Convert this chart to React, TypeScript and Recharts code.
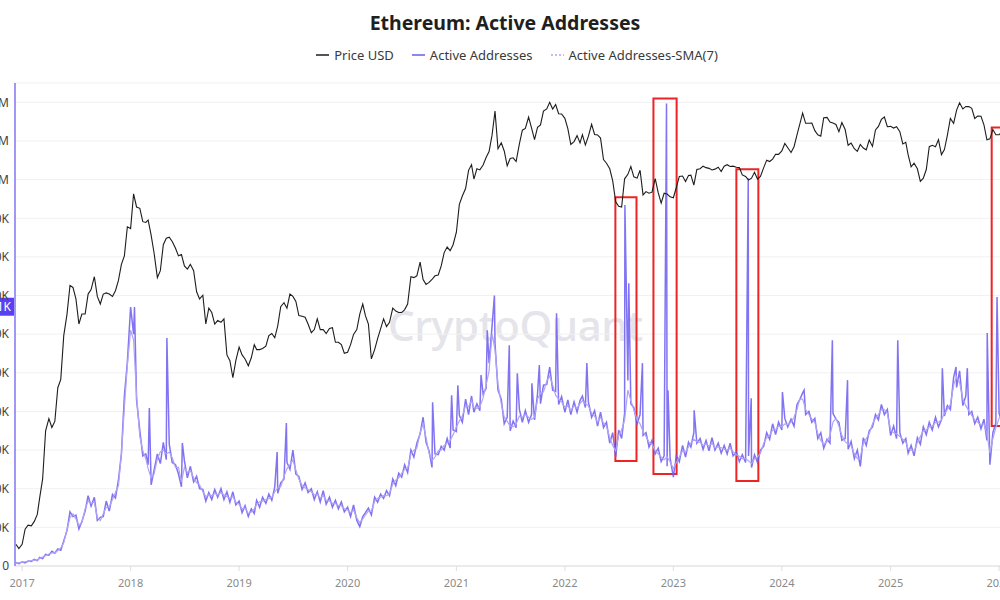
import React from "react";
import {
  ComposedChart,
  Line,
  XAxis,
  YAxis,
  CartesianGrid,
  ReferenceArea,
  ReferenceLine,
  Legend,
} from "recharts";

const FONT = "'Noto Sans', 'Open Sans', sans-serif";
const PRICE_COLOR = "#1d1d1d";
const AA_COLOR = "#6b5bef";
const SMA_COLOR = "#aea4f7";
const AXIS_PURPLE = "#8274f3";
const BOX_RED = "#ee2424";

// samples on the 1st, 11th and 21st of every month, starting 2016-12-11
const SAMPLE_DAYS = [1, 11, 21];

// ETH price in USD, one row per year
const priceUsd = [
  8.2, 7.7,
  8.2, 10.2, 10.8, 10.7, 11.4, 12.6, 16, 21, 42, 50, 44, 48, 78, 88, 165, 225, 340, 330, 280, 195, 225, 225, 300, 320, 385, 290, 260, 300, 305, 300, 290, 315, 365, 460, 520, 790,
  770, 1270, 1050, 1030, 850, 840, 870, 700, 540, 380, 420, 610, 670, 680, 640, 580, 520, 530, 450, 430, 460, 420, 310, 280, 295, 195, 245, 230, 195, 205, 200, 210, 125, 115, 90, 115,
  140, 125, 118, 107, 120, 145, 135, 135, 137, 142, 165, 170, 160, 190, 250, 265, 245, 300, 290, 270, 220, 218, 215, 195, 172, 180, 210, 180, 180, 170, 183, 185, 150, 150, 145, 128,
  130, 145, 168, 180, 225, 260, 220, 195, 118, 135, 158, 182, 210, 188, 200, 245, 235, 230, 230, 240, 260, 385, 380, 390, 475, 370, 345, 355, 370, 390, 395, 450, 545, 590, 560, 610,
  730, 1090, 1230, 1370, 1780, 1930, 1570, 1820, 1790, 1920, 2140, 2330, 2950, 4170, 2430, 2640, 2350, 1900, 2110, 2130, 2020, 2600, 3170, 3250, 3830, 3270, 2770, 3300, 3420, 4170, 4300, 4730, 4300, 4590, 4020, 4000,
  3760, 3240, 2580, 2690, 2930, 2640, 2970, 2560, 2900, 3450, 2980, 2960, 2830, 2080, 1970, 1820, 1530, 1130, 1060, 1050, 1575, 1680, 1880, 1620, 1590, 1780, 1250, 1310, 1280, 1300, 1580, 1290, 1110, 1280, 1265, 1215,
  1200, 1390, 1630, 1640, 1515, 1650, 1660, 1440, 1800, 1820, 1890, 1850, 1830, 1790, 1810, 1860, 1750, 1890, 1930, 1880, 1890, 1860, 1850, 1665, 1630, 1550, 1590, 1730, 1570, 1630, 1850, 2060, 2020, 2090, 2240, 2240,
  2350, 2620, 2460, 2300, 2500, 2960, 3430, 4050, 3500, 3500, 3510, 3150, 2970, 2910, 3790, 3810, 3560, 3520, 3440, 3100, 3540, 3200, 2550, 2630, 2430, 2340, 2580, 2450, 2390, 2750, 2510, 3180, 3350, 3700, 3830, 3330,
  3350, 3270, 3330, 3100, 2600, 2660, 2220, 1870, 1970, 1820, 1520, 1590, 1800, 2500, 2550, 2500, 2770, 2230, 2400, 2950, 3750, 3500, 4230, 4700, 4300, 4460, 4450, 4340, 3750, 3880, 3870, 3420, 2760, 2800, 3200, 2970,
  2970, 3100, 2950, 2800,
];

// daily active addresses (thousands), same samples
const activeK = [
  9, 6,
  11, 8, 13, 12, 17, 14, 22, 19, 30, 28, 38, 33, 44, 41, 65, 92, 140, 128, 132, 96, 115, 142, 182, 155, 178, 118, 126, 128, 168, 142, 185, 176, 222, 290, 440, 527,
  670, 600, 430, 350, 285, 290, 262, 210, 248, 290, 265, 320, 275, 315, 268, 262, 238, 205, 272, 228, 258, 218, 232, 200, 198, 168, 190, 172, 198, 178, 200, 172, 192, 165, 192, 158,
  168, 138, 156, 128, 148, 136, 170, 152, 178, 162, 186, 170, 205, 188, 215, 225, 268, 250, 300, 238, 232, 198, 215, 190, 200, 172, 192, 166, 195, 160, 178, 152, 170, 148, 166, 140,
  152, 128, 158, 118, 102, 128, 138, 150, 132, 178, 165, 186, 175, 195, 182, 225, 208, 240, 230, 262, 242, 300, 282, 318, 342, 385, 320, 298, 255, 290, 288, 310, 300, 330, 305, 352,
  348, 390, 372, 432, 392, 440, 398, 420, 402, 445, 460, 525, 620, 575, 455, 432, 368, 385, 350, 375, 358, 405, 372, 402, 372, 392, 378, 445, 420, 468, 470, 515, 455, 452, 418, 438,
  398, 430, 392, 425, 398, 428, 440, 410, 425, 385, 402, 362, 398, 358, 372, 318, 345, 282, 352, 330, 395, 480, 420, 410, 368, 392, 338, 345, 308, 325, 290, 305, 270, 285, 258, 280,
  230, 285, 270, 312, 282, 320, 308, 345, 318, 330, 302, 325, 298, 332, 300, 318, 292, 312, 290, 318, 285, 295, 270, 288, 268, 285, 255, 288, 268, 300, 310, 345, 328, 368, 340, 372,
  352, 382, 360, 380, 362, 418, 430, 448, 392, 400, 372, 382, 330, 345, 305, 328, 318, 395, 380, 372, 325, 330, 302, 322, 278, 300, 258, 332, 312, 350, 360, 392, 378, 418, 392, 405,
  338, 362, 330, 345, 318, 330, 292, 312, 285, 332, 315, 360, 340, 372, 352, 385, 360, 378, 388, 415, 405, 488, 462, 505, 415, 440, 392, 400, 368, 385, 355, 380, 325, 262, 345, 370,
  395, 372, 420, 430,
];

// 7-day SMA of active addresses (thousands), same samples
const smaK = [
  8, 8,
  10, 11, 11, 14, 15, 15, 20, 23, 27, 31, 34, 34, 40, 47, 60, 95, 125, 135, 122, 105, 112, 148, 168, 162, 165, 125, 118, 135, 152, 152, 172, 190, 208, 290, 410, 520,
  610, 585, 440, 335, 298, 278, 252, 228, 238, 278, 295, 300, 290, 295, 280, 255, 255, 218, 255, 242, 248, 228, 215, 210, 192, 180, 184, 182, 188, 184, 190, 184, 180, 175, 180, 165,
  160, 148, 150, 136, 140, 148, 160, 166, 168, 172, 174, 178, 192, 202, 205, 232, 252, 262, 275, 248, 225, 208, 202, 198, 192, 184, 186, 176, 182, 170, 168, 162, 162, 156, 156, 148,
  145, 138, 145, 125, 112, 122, 132, 142, 142, 168, 175, 178, 182, 182, 188, 212, 222, 228, 240, 250, 252, 290, 300, 305, 345, 368, 332, 292, 272, 282, 298, 300, 312, 318, 325, 340,
  360, 375, 388, 415, 412, 428, 410, 408, 412, 435, 468, 505, 600, 560, 470, 420, 385, 375, 362, 360, 368, 388, 385, 392, 385, 380, 385, 432, 448, 450, 478, 492, 468, 442, 432, 425,
  410, 415, 402, 415, 408, 420, 428, 420, 415, 395, 388, 372, 385, 370, 362, 332, 312, 298, 338, 352, 378, 455, 428, 405, 378, 368, 348, 335, 320, 315, 298, 290, 282, 275, 282, 270,
  252, 268, 282, 298, 295, 308, 318, 328, 322, 320, 312, 316, 310, 318, 306, 308, 306, 302, 300, 305, 296, 288, 284, 278, 278, 272, 265, 278, 282, 292, 318, 332, 338, 352, 352, 362,
  360, 368, 366, 372, 385, 405, 432, 432, 405, 392, 380, 372, 342, 325, 315, 322, 338, 372, 382, 362, 338, 322, 315, 312, 290, 278, 282, 318, 330, 342, 368, 382, 392, 405, 405, 395,
  352, 345, 342, 335, 328, 322, 302, 300, 296, 320, 335, 350, 352, 360, 362, 372, 372, 378, 395, 405, 418, 468, 490, 475, 432, 415, 402, 390, 378, 372, 365, 368, 342, 292, 330, 358,
  382, 395, 415, 428,
];

// single-day spikes in active addresses (thousands)
const aaSpikes: [string, number][] = [
  ["2018-01-14", 670], ["2018-03-05", 409], ["2018-05-03", 590], ["2018-06-24", 318],
  ["2019-05-09", 295], ["2019-06-09", 370], ["2020-10-13", 424], ["2020-12-16", 442],
  ["2021-01-06", 468], ["2021-03-25", 494], ["2021-04-15", 610], ["2021-05-09", 700],
  ["2021-06-28", 571], ["2021-07-25", 499], ["2021-09-12", 473], ["2021-10-07", 520],
  ["2021-12-04", 654], ["2022-03-16", 525], ["2022-07-22", 934], ["2022-08-04", 732],
  ["2022-09-19", 525], ["2022-12-09", 1197], ["2022-12-14", 455], ["2023-03-12", 403],
  ["2023-09-10", 1003], ["2023-09-20", 434], ["2024-01-03", 450], ["2024-03-16", 455],
  ["2024-06-19", 584], ["2024-08-09", 481], ["2025-01-25", 584], ["2025-06-24", 512],
  ["2025-08-09", 515], ["2025-09-16", 512], ["2025-11-22", 603], ["2025-12-25", 696],
];

// red highlight boxes: [from, to, top (K), bottom (K)]
const highlightBoxes: [string, string, number, number][] = [
  ["2022-06-20", "2022-08-30", 954, 272],
  ["2022-10-26", "2023-01-12", 1210, 238],
  ["2023-08-01", "2023-10-14", 1027, 220],
  ["2025-12-07", "2026-02-08", 1135, 362],
];

const yearTicks = [2017, 2018, 2019, 2020, 2021, 2022, 2023, 2024, 2025, 2026];
const aaTicksK = [0, 100, 200, 300, 400, 500, 600, 700, 800, 900, 1000, 1100, 1200];
const currentAaK = 671;

const legendItems = [
  { label: "Price USD", color: PRICE_COLOR, dash: undefined as string | undefined },
  { label: "Active Addresses", color: AA_COLOR, dash: undefined },
  { label: "Active Addresses-SMA(7)", color: SMA_COLOR, dash: "2 2" },
];

const utc = (s: string) => Date.parse(s + "T00:00:00Z");

function sampleDates(n: number): number[] {
  const out: number[] = [];
  let y = 2016;
  let m = 11;
  while (out.length < n) {
    for (const d of SAMPLE_DAYS) {
      if (y === 2016 && d === 1) continue;
      if (out.length < n) out.push(Date.UTC(y, m, d));
    }
    m += 1;
    if (m === 12) {
      m = 0;
      y += 1;
    }
  }
  return out;
}

const dates = sampleDates(priceUsd.length);
const rows: { t: number; price?: number; aa?: number; sma?: number }[] = dates.map((t, i) => ({
  t,
  price: priceUsd[i],
  aa: activeK[i] * 1000,
  sma: smaK[i] * 1000,
}));
const data = [
  ...rows,
  ...aaSpikes.map(([d, v]) => ({ t: utc(d), aa: v * 1000 })),
].sort((a, b) => a.t - b.t);

const X_DOMAIN = [Date.UTC(2016, 11, 8), Date.UTC(2026, 1, 10)];

const fmtAA = (v: number) =>
  v === 0 ? "0" : v >= 1e6 ? `${+(v / 1e6).toFixed(1)}M` : `${Math.round(v / 1e3)}K`;

function CurrentValueTag(props: any) {
  const vb = props.viewBox || {};
  return (
    <g>
      <rect x={vb.x - 58} y={vb.y - 9} width={57} height={18} fill="#5a40f3" />
      <text x={vb.x - 4} y={vb.y + 4.5} textAnchor="end" fill="#fff" fontSize={12} fontFamily={FONT}>
        {`${currentAaK}K`}
      </text>
    </g>
  );
}

function LegendRow() {
  return (
    <div
      style={{
        display: "flex",
        justifyContent: "center",
        gap: 18,
        fontFamily: FONT,
        fontSize: 13,
        color: "#3a3a3a",
        paddingLeft: 34,
      }}
    >
      {legendItems.map((it) => (
        <div key={it.label} style={{ display: "flex", alignItems: "center", gap: 5 }}>
          <svg width={13} height={10}>
            <line x1={0} y1={5} x2={13} y2={5} stroke={it.color} strokeWidth={1.5} strokeDasharray={it.dash} />
          </svg>
          <span>{it.label}</span>
        </div>
      ))}
    </div>
  );
}

export default function App() {
  return (
    <div
      style={{
        position: "fixed",
        left: 0,
        top: 0,
        width: 1000,
        height: 600,
        overflow: "hidden",
        background: "#fff",
        fontFamily: FONT,
      }}
    >
      <div
        style={{
          position: "absolute",
          top: 9,
          left: 10,
          width: 990,
          textAlign: "center",
          fontSize: 19.5,
          fontWeight: 700,
          color: "#1f1f1f",
        }}
      >
        Ethereum: Active Addresses
      </div>
      <div
        style={{
          position: "absolute",
          top: 296,
          left: 388,
          fontSize: 42,
          fontWeight: 500,
          color: "#e4e4ea",
          letterSpacing: -0.5,
        }}
      >
        CryptoQuant
      </div>
      <div style={{ position: "absolute", left: -40, top: 0 }}>
        <ComposedChart width={1051} height={600} data={data} margin={{ top: 83, right: 0, bottom: 0, left: 0 }}>
          <CartesianGrid vertical={false} yAxisId="aa" stroke="#f1f1f3" />
          <XAxis
            dataKey="t"
            type="number"
            domain={X_DOMAIN}
            allowDataOverflow
            ticks={yearTicks.map((y) => Date.UTC(y, 0, 1))}
            tickFormatter={(t) => String(new Date(t).getUTCFullYear())}
            height={34}
            tickSize={5}
            tickMargin={8}
            stroke="#dedede"
            tick={{ fill: "#8a8a8a", fontSize: 11, fontFamily: FONT }}
          />
          <YAxis
            yAxisId="aa"
            domain={[0, 1250000]}
            allowDataOverflow
            ticks={aaTicksK.map((k) => k * 1000)}
            tickFormatter={fmtAA}
            width={55}
            tickLine={false}
            tickSize={0}
            tickMargin={6}
            axisLine={{ stroke: AXIS_PURPLE, strokeWidth: 1.5 }}
            tick={{ fill: "#444", fontSize: 12, fontFamily: FONT }}
          />
          <YAxis yAxisId="price" orientation="right" hide scale="log" domain={[6, 6250]} allowDataOverflow />
          <Legend
            verticalAlign="middle"
            align="center"
            layout="horizontal"
            wrapperStyle={{ top: 46, left: 40, width: 1000 }}
            content={() => <LegendRow />}
          />
          <Line
            yAxisId="aa"
            dataKey="aa"
            name="Active Addresses"
            stroke={AA_COLOR}
            strokeOpacity={0.85}
            strokeWidth={1.5}
            dot={false}
            connectNulls
            isAnimationActive={false}
          />
          <Line
            yAxisId="aa"
            dataKey="sma"
            name="Active Addresses-SMA(7)"
            stroke={SMA_COLOR}
            strokeWidth={1.2}
            dot={false}
            connectNulls
            isAnimationActive={false}
          />
          <Line
            yAxisId="price"
            dataKey="price"
            name="Price USD"
            stroke={PRICE_COLOR}
            strokeWidth={1.1}
            dot={false}
            connectNulls
            isAnimationActive={false}
          />
          {highlightBoxes.map(([from, to, top, bottom]) => (
            <ReferenceArea
              key={from}
              yAxisId="aa"
              x1={utc(from)}
              x2={utc(to)}
              y1={bottom * 1000}
              y2={top * 1000}
              fill="none"
              stroke={BOX_RED}
              strokeWidth={2}
              ifOverflow="visible"
            />
          ))}
          <ReferenceLine
            yAxisId="aa"
            y={currentAaK * 1000}
            stroke="none"
            label={<CurrentValueTag />}
          />
        </ComposedChart>
      </div>
    </div>
  );
}
